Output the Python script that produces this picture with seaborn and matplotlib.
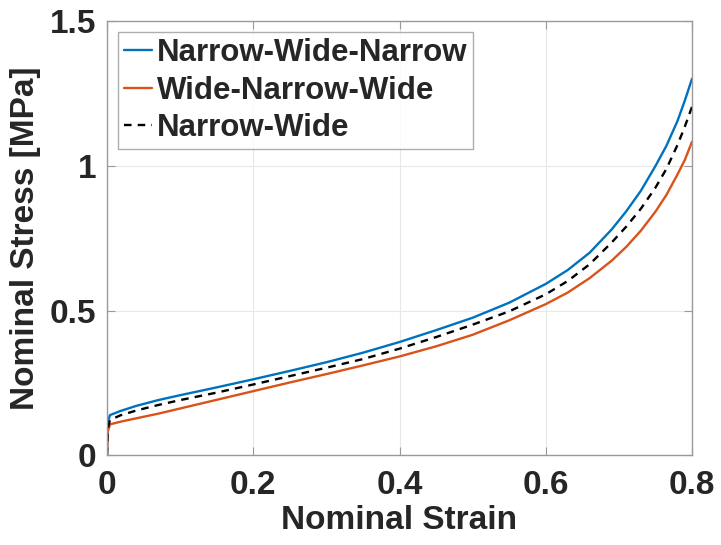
import matplotlib
matplotlib.use("Agg")
import matplotlib.pyplot as plt
import seaborn as sns
import pandas as pd

# estilo parecido com o MATLAB
sns.set_theme(style="whitegrid")
plt.rcParams["font.family"] = ["Liberation Sans", "DejaVu Sans"]
plt.rcParams["font.weight"] = "bold"

# deformação nominal
strain = [0, 0.001, 0.004, 0.018, 0.04, 0.07, 0.1, 0.15, 0.2, 0.25, 0.3, 0.35,
          0.4, 0.45, 0.5, 0.55, 0.6, 0.63, 0.66, 0.69, 0.71, 0.73, 0.75,
          0.765, 0.78, 0.79, 0.8]

# tensão nominal [MPa] de cada configuração
stress_nwn = [0, 0.11, 0.138, 0.152, 0.17, 0.19, 0.207, 0.234, 0.262, 0.291,
              0.321, 0.354, 0.391, 0.432, 0.475, 0.527, 0.592, 0.64, 0.70,
              0.78, 0.843, 0.914, 1.0, 1.07, 1.155, 1.225, 1.302]
stress_wnw = [0, 0.08, 0.106, 0.115, 0.127, 0.143, 0.161, 0.191, 0.221, 0.251,
              0.28, 0.31, 0.341, 0.376, 0.416, 0.466, 0.522, 0.562, 0.612,
              0.672, 0.72, 0.776, 0.842, 0.9, 0.97, 1.02, 1.084]
stress_nw = [0, 0.09, 0.121, 0.137, 0.154, 0.173, 0.19, 0.216, 0.244, 0.273,
             0.302, 0.332, 0.368, 0.408, 0.451, 0.497, 0.556, 0.602, 0.66,
             0.735, 0.79, 0.852, 0.925, 0.99, 1.072, 1.135, 1.205]

series = ["Narrow-Wide-Narrow", "Wide-Narrow-Wide", "Narrow-Wide"]
cores = ["#0072BD", "#D95319", "black"]

df = pd.DataFrame({
    "Strain": strain * 3,
    "Stress": stress_nwn + stress_wnw + stress_nw,
    "Config": [series[0]] * len(strain) + [series[1]] * len(strain)
              + [series[2]] * len(strain),
})

fig = plt.figure(figsize=(7.21, 5.45), dpi=100)
ax = fig.add_axes([0.1484, 0.1651, 0.8114, 0.7955])

sns.lineplot(data=df, x="Strain", y="Stress", hue="Config", style="Config",
             hue_order=series, style_order=series, palette=cores,
             dashes={series[0]: "", series[1]: "", series[2]: (3.2, 2.6)},
             linewidth=1.7, sort=False, estimator=None, ax=ax)

# eixos e grade
ax.set_xlim(0, 0.8)
ax.set_ylim(0, 1.5)
ax.set_xticks([0, 0.2, 0.4, 0.6, 0.8])
ax.set_xticklabels(["0", "0.2", "0.4", "0.6", "0.8"])
ax.set_yticks([0, 0.5, 1, 1.5])
ax.set_yticklabels(["0", "0.5", "1", "1.5"])
ax.grid(True, color="#e8e8e8", linewidth=0.8)
ax.set_facecolor("white")
for s in ax.spines.values():
    s.set_visible(True)
    s.set_color("#9a9a9a")
    s.set_linewidth(1.0)
ax.tick_params(direction="in", length=6, width=0.8, color="#9a9a9a",
               top=True, right=True, bottom=True, left=True,
               labelsize=24, labelcolor="#262626")
ax.tick_params(axis="x", pad=11)
ax.tick_params(axis="y", pad=8)

ax.set_xlabel("Nominal Strain", fontsize=24, fontweight="bold",
              color="#262626", labelpad=3)
ax.set_ylabel("Nominal Stress [MPa]", fontsize=24, fontweight="bold",
              color="#262626", labelpad=6)

leg = ax.legend(loc="upper left", bbox_to_anchor=(0.018, 0.976),
                fontsize=22.5, frameon=True, fancybox=False,
                handlelength=0.9, handletextpad=0.15, labelspacing=0.24,
                borderpad=0.2, borderaxespad=0.0)
leg.get_frame().set_edgecolor("#9a9a9a")
leg.get_frame().set_linewidth(1.0)
for t in leg.get_texts():
    t.set_fontweight("bold")

fig.savefig("out.png", dpi=100)
